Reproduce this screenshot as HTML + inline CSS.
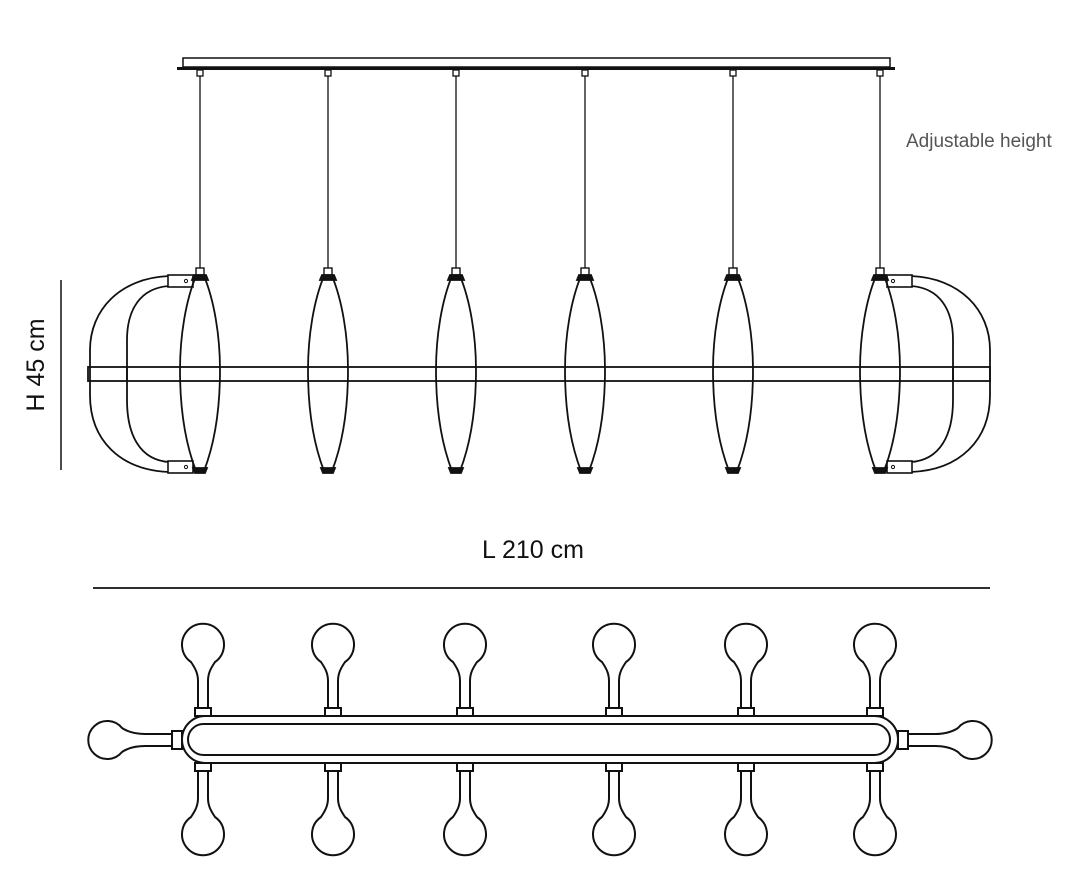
<!DOCTYPE html>
<html><head><meta charset="utf-8"><style>
html,body{margin:0;padding:0;background:#fff;}
svg{display:block}
text{font-family:"Liberation Sans",sans-serif;}
</style></head><body>
<svg width="1080" height="884" viewBox="0 0 1080 884" xmlns="http://www.w3.org/2000/svg">
<defs>
<g id="lamp" fill="none" stroke="#111" stroke-width="1.8">
  <rect x="-4" y="268" width="8" height="7" stroke-width="1.4"/>
  <path d="M-4,276 C-14,300 -20,335 -20,370 C-20,410 -14,445 -4,471 L4,471 C14,445 20,410 20,370 C20,335 14,300 4,276 Z"/>
  <path d="M-6,275 L6,275 L8,280 L-8,280 Z" fill="#111"/>
  <path d="M-7,468 L7,468 L5,473 L-5,473 Z" fill="#111"/>
</g>
<g id="gl" fill="none" stroke="#111" stroke-width="2">
  <path d="M-5,708 L-5,681 C-5,673 -8,668 -12,662 A21,21 0 1 1 12,662 C8,668 5,673 5,681 L5,708"/>
  <rect x="-8" y="708" width="16" height="8" fill="#fff"/>
</g>
<g id="glb" fill="none" stroke="#111" stroke-width="2">
  <path d="M-5,771 L-5,798 C-5,806 -8,811 -12,817 A21,21 0 1 0 12,817 C8,811 5,806 5,798 L5,771"/>
  <rect x="-8" y="763" width="16" height="8" fill="#fff"/>
</g>
</defs>

<rect x="183" y="58" width="707" height="9" fill="none" stroke="#111" stroke-width="1.5"/>
<rect x="177" y="67" width="718" height="3" fill="#111"/>

<g stroke="#111" stroke-width="1.3">
<line x1="200" y1="70" x2="200" y2="268"/><line x1="328" y1="70" x2="328" y2="268"/>
<line x1="456" y1="70" x2="456" y2="268"/><line x1="585" y1="70" x2="585" y2="268"/>
<line x1="733" y1="70" x2="733" y2="268"/><line x1="880" y1="70" x2="880" y2="268"/>
</g>
<g fill="#fff" stroke="#111" stroke-width="1.3">
<rect x="197" y="70" width="6" height="6"/><rect x="325" y="70" width="6" height="6"/>
<rect x="453" y="70" width="6" height="6"/><rect x="582" y="70" width="6" height="6"/>
<rect x="730" y="70" width="6" height="6"/><rect x="877" y="70" width="6" height="6"/>
</g>

<rect x="88" y="367" width="902" height="14" fill="none" stroke="#111" stroke-width="1.8"/>

<g fill="none" stroke="#111" stroke-width="1.8">
<path d="M169,276 C120,278 90,310 90,350 L90,395 C90,440 120,470 169,472"/>
<path d="M169,286 C140,288 127,310 127,340 L127,400 C127,435 140,460 169,462"/>
<line x1="127" y1="367" x2="127" y2="381"/>
<path d="M911,276 C960,278 990,310 990,350 L990,395 C990,440 960,470 911,472"/>
<path d="M911,286 C940,288 953,310 953,340 L953,400 C953,435 940,460 911,462"/>
<line x1="953" y1="367" x2="953" y2="381"/>
</g>
<g fill="#fff" stroke="#111" stroke-width="1.6">
<rect x="168" y="275" width="25" height="12"/><rect x="168" y="461" width="25" height="12"/>
<rect x="887" y="275" width="25" height="12"/><rect x="887" y="461" width="25" height="12"/>
</g>
<g fill="none" stroke="#111" stroke-width="1">
<circle cx="186" cy="281" r="1.6"/><circle cx="186" cy="467" r="1.6"/>
<circle cx="893" cy="281" r="1.6"/><circle cx="893" cy="467" r="1.6"/>
</g>

<use href="#lamp" x="200"/><use href="#lamp" x="328"/><use href="#lamp" x="456"/>
<use href="#lamp" x="585"/><use href="#lamp" x="733"/><use href="#lamp" x="880"/>

<line x1="61" y1="280" x2="61" y2="470" stroke="#111" stroke-width="1.5"/>
<text x="0" y="0" font-size="25" fill="#111" text-anchor="middle" transform="translate(44,365) rotate(-90)">H 45 cm</text>
<text x="533" y="558" font-size="25" fill="#111" text-anchor="middle">L 210 cm</text>
<line x1="93" y1="588" x2="990" y2="588" stroke="#111" stroke-width="1.8"/>
<text x="906" y="147" font-size="19" fill="#555">Adjustable height</text>

<rect x="182" y="716" width="716" height="47" rx="23.5" fill="none" stroke="#111" stroke-width="2"/>
<rect x="188" y="724" width="702" height="31" rx="15.5" fill="none" stroke="#111" stroke-width="2"/>
<use href="#gl" x="203"/><use href="#gl" x="333"/><use href="#gl" x="465"/>
<use href="#gl" x="614"/><use href="#gl" x="746"/><use href="#gl" x="875"/>
<use href="#glb" x="203"/><use href="#glb" x="333"/><use href="#glb" x="465"/>
<use href="#glb" x="614"/><use href="#glb" x="746"/><use href="#glb" x="875"/>
<g fill="none" stroke="#111" stroke-width="2">
<path d="M172,734 L145,734 C135,734 128,732 122,728 A19,19 0 1 0 122,752 C128,748 135,746 145,746 L172,746"/>
<rect x="172" y="731" width="10" height="18" fill="#fff"/>
<path d="M908,734 L935,734 C945,734 952,732 958,728 A19,19 0 1 1 958,752 C952,748 945,746 935,746 L908,746"/>
<rect x="898" y="731" width="10" height="18" fill="#fff"/>
</g>
</svg>
</body></html>
